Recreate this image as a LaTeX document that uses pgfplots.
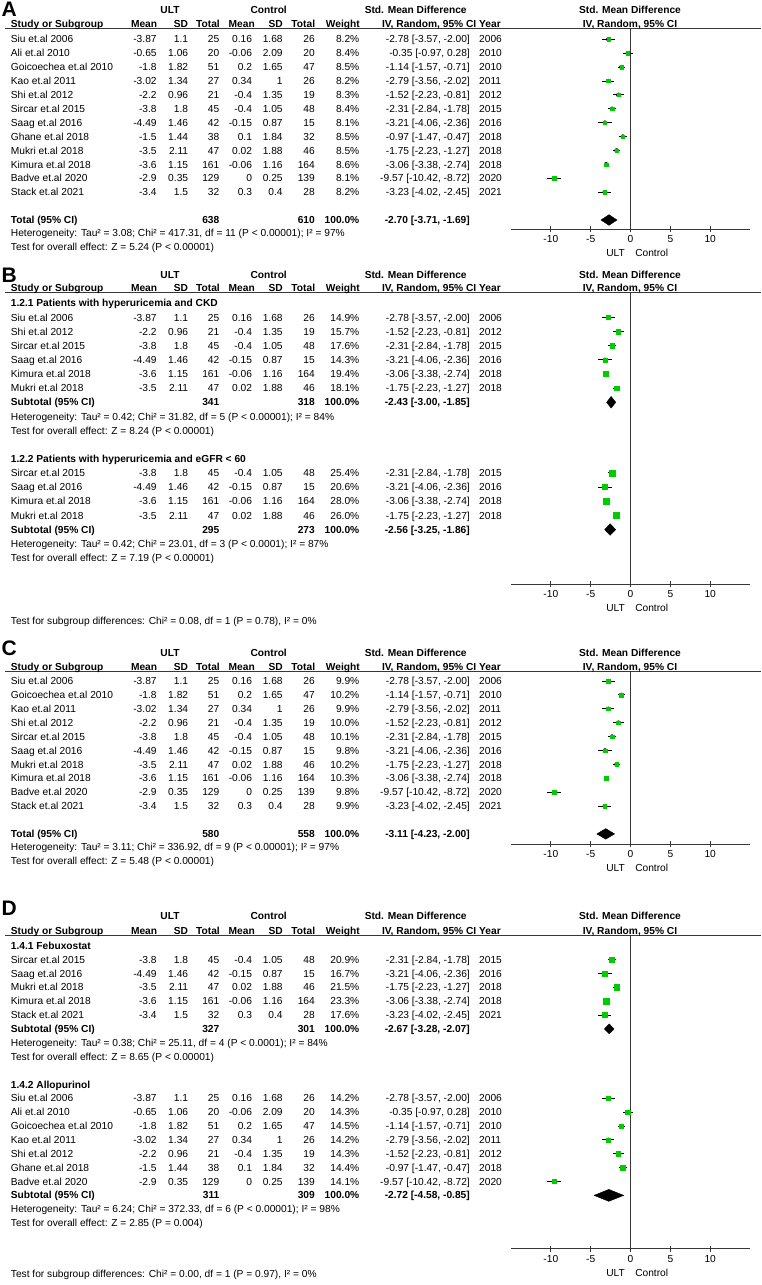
\documentclass[border=0pt]{standalone}
\usepackage{pgfplots}
\pgfplotsset{compat=1.18}
\usepackage{pgfplotstable}
\usepackage{fontspec}
\setmainfont{Liberation Sans}
\definecolor{sqgreen}{RGB}{0,204,0}
\definecolor{ln}{RGB}{55,55,55}
\newcommand\fs{\fontsize{10.2}{12}\selectfont}

% ---------- study data: key, year, ULT mean, SD, n, control mean, SD, n, SMD [CI]
\newcommand\defstudy[9]{\expandafter\def\csname S#1\endcsname{\studyb{#1}{#2}{#3}{#4}{#5}{#6}{#7}{#8}{#9}}}
\newcommand\studyb[9]{%
 \node[anchor=base west] at (10.7,\rowY) {#1 et.al #2};
 \node[anchor=base east] at (156.8,\rowY) {#3};
 \node[anchor=base east] at (188.3,\rowY) {#4};
 \node[anchor=base east] at (219.5,\rowY) {#5};
 \node[anchor=base east] at (252.2,\rowY) {#6};
 \node[anchor=base east] at (282.8,\rowY) {#7};
 \node[anchor=base east] at (315,\rowY) {#8};
 \node[anchor=base east] at (359.5,\rowY) {\rowW\%};
 \node[anchor=base east] at (470,\rowY) {#9};
 \node[anchor=base west] at (479,\rowY) {#2};
}
\newcommand\study[3]{\def\rowY{#1}\def\rowW{#3}\csname S#2\endcsname}
\defstudy{Siu}{2006}{-3.87}{1.1}{25}{0.16}{1.68}{26}{-2.78 [-3.57, -2.00]}
\defstudy{Ali}{2010}{-0.65}{1.06}{20}{-0.06}{2.09}{20}{-0.35 [-0.97, 0.28]}
\defstudy{Goicoechea}{2010}{-1.8}{1.82}{51}{0.2}{1.65}{47}{-1.14 [-1.57, -0.71]}
\defstudy{Kao}{2011}{-3.02}{1.34}{27}{0.34}{1}{26}{-2.79 [-3.56, -2.02]}
\defstudy{Shi}{2012}{-2.2}{0.96}{21}{-0.4}{1.35}{19}{-1.52 [-2.23, -0.81]}
\defstudy{Sircar}{2015}{-3.8}{1.8}{45}{-0.4}{1.05}{48}{-2.31 [-2.84, -1.78]}
\defstudy{Saag}{2016}{-4.49}{1.46}{42}{-0.15}{0.87}{15}{-3.21 [-4.06, -2.36]}
\defstudy{Ghane}{2018}{-1.5}{1.44}{38}{0.1}{1.84}{32}{-0.97 [-1.47, -0.47]}
\defstudy{Mukri}{2018}{-3.5}{2.11}{47}{0.02}{1.88}{46}{-1.75 [-2.23, -1.27]}
\defstudy{Kimura}{2018}{-3.6}{1.15}{161}{-0.06}{1.16}{164}{-3.06 [-3.38, -2.74]}
\defstudy{Badve}{2020}{-2.9}{0.35}{129}{0}{0.25}{139}{-9.57 [-10.42, -8.72]}
\defstudy{Stack}{2021}{-3.4}{1.5}{32}{0.3}{0.4}{28}{-3.23 [-4.02, -2.45]}

\newcommand\headers[2]{%
 \node[anchor=base] at (170,#1) {\bfseries ULT};
 \node[anchor=base] at (268.7,#1) {\bfseries Control};
 \node[anchor=base] at (415.7,#1) {\bfseries Std. Mean Difference};
 \node[anchor=base] at (630,#1) {\bfseries Std. Mean Difference};
 \node[anchor=base west] at (10.7,#2) {\bfseries Study or Subgroup};
 \node[anchor=base east] at (157.3,#2) {\bfseries Mean};
 \node[anchor=base east] at (188.3,#2) {\bfseries SD};
 \node[anchor=base east] at (220,#2) {\bfseries Total};
 \node[anchor=base east] at (255,#2) {\bfseries Mean};
 \node[anchor=base east] at (283,#2) {\bfseries SD};
 \node[anchor=base east] at (315.3,#2) {\bfseries Total};
 \node[anchor=base east] at (360,#2) {\bfseries Weight};
 \node[anchor=base east] at (476.5,#2) {\bfseries IV, Random, 95\% CI};
 \node[anchor=base west] at (479,#2) {\bfseries Year};
 \node[anchor=base] at (630,#2) {\bfseries IV, Random, 95\% CI};
}
\newcommand\totrow[5]{%
 \node[anchor=base west] at (10.7,#1) {\bfseries #2};
 \node[anchor=base east] at (219.5,#1) {\bfseries #3};
 \node[anchor=base east] at (315,#1) {\bfseries #4};
 \node[anchor=base east] at (359.5,#1) {\bfseries 100.0\%};
 \node[anchor=base east] at (470,#1) {\bfseries #5};
}
\newcommand\txt[2]{\node[anchor=base west] at (10.7,#1) {#2};}
\newcommand\ulc[1]{\node[anchor=base] at (615.6,#1) {ULT};\node[anchor=base] at (651.7,#1) {Control};}

% ---------- forest data: row, estimate, lower, upper, weight (%)
\pgfplotstableread{
row est lo hi w
1 -2.78 -3.57 -2.00 8.2
2 -0.35 -0.97 0.28 8.4
3 -1.14 -1.57 -0.71 8.5
4 -2.79 -3.56 -2.02 8.2
5 -1.52 -2.23 -0.81 8.3
6 -2.31 -2.84 -1.78 8.4
7 -3.21 -4.06 -2.36 8.1
8 -0.97 -1.47 -0.47 8.5
9 -1.75 -2.23 -1.27 8.5
10 -3.06 -3.38 -2.74 8.6
11 -9.57 -10.42 -8.72 8.1
12 -3.23 -4.02 -2.45 8.2
}\tabA
\pgfplotstableread{
row est lo hi w
1 -2.78 -3.57 -2.00 14.9
2 -1.52 -2.23 -0.81 15.7
3 -2.31 -2.84 -1.78 17.6
4 -3.21 -4.06 -2.36 14.3
5 -3.06 -3.38 -2.74 19.4
6 -1.75 -2.23 -1.27 18.1
12 -2.31 -2.84 -1.78 25.4
13 -3.21 -4.06 -2.36 20.6
14 -3.06 -3.38 -2.74 28.0
15 -1.75 -2.23 -1.27 26.0
}\tabB
\pgfplotstableread{
row est lo hi w
1 -2.78 -3.57 -2.00 9.9
2 -1.14 -1.57 -0.71 10.2
3 -2.79 -3.56 -2.02 9.9
4 -1.52 -2.23 -0.81 10.0
5 -2.31 -2.84 -1.78 10.1
6 -3.21 -4.06 -2.36 9.8
7 -1.75 -2.23 -1.27 10.2
8 -3.06 -3.38 -2.74 10.3
9 -9.57 -10.42 -8.72 9.8
10 -3.23 -4.02 -2.45 9.9
}\tabC
\pgfplotstableread{
row est lo hi w
1 -2.31 -2.84 -1.78 20.9
2 -3.21 -4.06 -2.36 16.7
3 -1.75 -2.23 -1.27 21.5
4 -3.06 -3.38 -2.74 23.3
5 -3.23 -4.02 -2.45 17.6
11 -2.78 -3.57 -2.00 14.2
12 -0.35 -0.97 0.28 14.3
13 -1.14 -1.57 -0.71 14.5
14 -2.79 -3.56 -2.02 14.2
15 -1.52 -2.23 -0.81 14.3
16 -0.97 -1.47 -0.47 14.4
17 -9.57 -10.42 -8.72 14.1
}\tabD

\pgfplotsset{forest/.style={
  scale only axis, width=239pt, xmin=-15, xmax=15, y dir=reverse, clip=false,
  axis x line=bottom, axis y line=none, ytick=\empty,
  x axis line style={-, draw=ln, line width=0.9pt},
  xtick={-10,-5,0,5,10}, tick align=center, major tick length=6pt,
  every tick/.style={draw=ln, line width=0.9pt},
  xticklabel style={font=\fs},
  /pgf/number format/assume math mode=true,
  anchor=south west},
 ci/.style={only marks, mark=none, error bars/.cd, x dir=both, x explicit, error mark=none,
  error bar style={black, line width=1pt}},
 sq/.style={scatter, only marks, mark=square*, point meta=\thisrow{w},
  scatter/use mapped color={draw=sqgreen, fill=sqgreen},
  visualization depends on={0.567*sqrt(\thisrow{w}) \as \ms},
  scatter/@pre marker code/.append style={/tikz/mark size=\ms}},
 zl/.style={draw=ln, line width=0.9pt, mark=none}
}
\newcommand\forest[1]{%
 \addplot[ci] table[x=est, y=row, x error plus expr=\thisrow{hi}-\thisrow{est}, x error minus expr=\thisrow{est}-\thisrow{lo}] {#1};
 \addplot[sq] table[x=est, y=row] {#1};
}

\begin{document}
\begin{tikzpicture}
\path[use as bounding box] (0,0) rectangle (761pt,-1285pt);
% panel letters and header rules
\begin{scope}[y=-1pt, x=1pt, every node/.style={inner sep=0pt}]
 \node[anchor=west, font=\fontsize{21}{22}\selectfont\bfseries] at (1.5,9.2) {A};
 \node[anchor=west, font=\fontsize{21}{22}\selectfont\bfseries] at (1.5,275.3) {B};
 \node[anchor=west, font=\fontsize{21}{22}\selectfont\bfseries] at (1.5,648) {C};
 \node[anchor=west, font=\fontsize{21}{22}\selectfont\bfseries] at (1.5,908) {D};
 \draw[ln, line width=1pt] (5,28.5) -- (761,28.5);
 \draw[ln, line width=1pt] (5,292.7) -- (761,292.7);
 \draw[ln, line width=1pt] (5,671) -- (761,671);
 \draw[ln, line width=1pt] (5,935) -- (761,935);
\end{scope}
% table text
\begin{scope}[y=-1pt, x=1pt, yshift=-3.6pt, every node/.style={inner sep=0pt}, font=\fs]
 % ---- A
 \headers{10}{24}
 \study{39.3}{Siu}{8.2}
 \study{53.2}{Ali}{8.4}
 \study{67.1}{Goicoechea}{8.5}
 \study{81.0}{Kao}{8.2}
 \study{94.9}{Shi}{8.3}
 \study{108.8}{Sircar}{8.4}
 \study{122.7}{Saag}{8.1}
 \study{136.6}{Ghane}{8.5}
 \study{150.5}{Mukri}{8.5}
 \study{164.4}{Kimura}{8.6}
 \study{178.3}{Badve}{8.1}
 \study{192.2}{Stack}{8.2}
 \totrow{220}{Total (95\% CI)}{638}{610}{-2.70 [-3.71, -1.69]}
 \txt{233}{Heterogeneity: Tau² = 3.08; Chi² = 417.31, df = 11 (P < 0.00001); I² = 97\%}
 \txt{247}{Test for overall effect: Z = 5.24 (P < 0.00001)}
 \ulc{253.3}
 % ---- B
 \headers{275}{288.3}
 \txt{303.3}{\bfseries 1.2.1 Patients with hyperuricemia and CKD}
 \study{317.44}{Siu}{14.9}
 \study{331.58}{Shi}{15.7}
 \study{345.72}{Sircar}{17.6}
 \study{359.86}{Saag}{14.3}
 \study{374.0}{Kimura}{19.4}
 \study{388.14}{Mukri}{18.1}
 \totrow{402.28}{Subtotal (95\% CI)}{341}{318}{-2.43 [-3.00, -1.85]}
 \txt{416.42}{Heterogeneity: Tau² = 0.42; Chi² = 31.82, df = 5 (P < 0.00001); I² = 84\%}
 \txt{430.56}{Test for overall effect: Z = 8.24 (P < 0.00001)}
 \txt{458.84}{\bfseries 1.2.2 Patients with hyperuricemia and eGFR < 60}
 \study{472.98}{Sircar}{25.4}
 \study{487.12}{Saag}{20.6}
 \study{501.26}{Kimura}{28.0}
 \study{515.4}{Mukri}{26.0}
 \totrow{529.54}{Subtotal (95\% CI)}{295}{273}{-2.56 [-3.25, -1.86]}
 \txt{543.68}{Heterogeneity: Tau² = 0.42; Chi² = 23.01, df = 3 (P < 0.0001); I² = 87\%}
 \txt{557.82}{Test for overall effect: Z = 7.19 (P < 0.00001)}
 \txt{621}{Test for subgroup differences: Chi² = 0.08, df = 1 (P = 0.78), I² = 0\%}
 \ulc{607.7}
 % ---- C
 \headers{653.3}{667.3}
 \study{681}{Siu}{9.9}
 \study{694.9}{Goicoechea}{10.2}
 \study{708.8}{Kao}{9.9}
 \study{722.7}{Shi}{10.0}
 \study{736.6}{Sircar}{10.1}
 \study{750.5}{Saag}{9.8}
 \study{764.4}{Mukri}{10.2}
 \study{778.3}{Kimura}{10.3}
 \study{792.2}{Badve}{9.8}
 \study{806.1}{Stack}{9.9}
 \totrow{833.9}{Total (95\% CI)}{580}{558}{-3.11 [-4.23, -2.00]}
 \txt{847}{Heterogeneity: Tau² = 3.11; Chi² = 336.92, df = 9 (P < 0.00001); I² = 97\%}
 \txt{861}{Test for overall effect: Z = 5.48 (P < 0.00001)}
 \ulc{868}
 % ---- D
 \headers{915.7}{931}
 \txt{945.7}{\bfseries 1.4.1 Febuxostat}
 \study{959.57}{Sircar}{20.9}
 \study{973.44}{Saag}{16.7}
 \study{987.31}{Mukri}{21.5}
 \study{1001.18}{Kimura}{23.3}
 \study{1015.05}{Stack}{17.6}
 \totrow{1028.92}{Subtotal (95\% CI)}{327}{301}{-2.67 [-3.28, -2.07]}
 \txt{1042.79}{Heterogeneity: Tau² = 0.38; Chi² = 25.11, df = 4 (P < 0.0001); I² = 84\%}
 \txt{1056.66}{Test for overall effect: Z = 8.65 (P < 0.00001)}
 \txt{1084.4}{\bfseries 1.4.2 Allopurinol}
 \study{1098.27}{Siu}{14.2}
 \study{1112.14}{Ali}{14.3}
 \study{1126.01}{Goicoechea}{14.5}
 \study{1139.88}{Kao}{14.2}
 \study{1153.75}{Shi}{14.3}
 \study{1167.62}{Ghane}{14.4}
 \study{1181.49}{Badve}{14.1}
 \totrow{1195.36}{Subtotal (95\% CI)}{311}{309}{-2.72 [-4.58, -0.85]}
 \txt{1209.23}{Heterogeneity: Tau² = 6.24; Chi² = 372.33, df = 6 (P < 0.00001); I² = 98\%}
 \txt{1223.1}{Test for overall effect: Z = 2.85 (P = 0.004)}
 \txt{1274}{Test for subgroup differences: Chi² = 0.00, df = 1 (P = 0.97), I² = 0\%}
 \ulc{1272.7}
\end{scope}

% ---------- forest plots
\begin{axis}[forest, at={(511pt,-229.3pt)}, height=200.8pt, ymin=0.223, ymax=14.669]
 \addplot[zl] coordinates {(0,0.223) (0,14.669)};
 \forest{\tabA}
 \addplot[fill=black, draw=black] coordinates {(-3.71,14) (-2.70,13.62) (-1.69,14) (-2.70,14.38) (-3.71,14)};
\end{axis}
\begin{axis}[forest, at={(511pt,-584.3pt)}, height=291.3pt, ymin=-0.728, ymax=19.873]
 \addplot[zl] coordinates {(0,-0.728) (0,19.873)};
 \forest{\tabB}
 \addplot[fill=black, draw=black] coordinates {(-3.00,7) (-2.43,6.59) (-1.85,7) (-2.43,7.41) (-3.00,7)};
 \addplot[fill=black, draw=black] coordinates {(-3.25,16) (-2.56,15.59) (-1.86,16) (-2.56,16.41) (-3.25,16)};
\end{axis}
\begin{axis}[forest, at={(511pt,-844pt)}, height=173pt, ymin=0.2806, ymax=12.727]
 \addplot[zl] coordinates {(0,0.2806) (0,12.727)};
 \forest{\tabC}
 \addplot[fill=black, draw=black] coordinates {(-4.23,12) (-3.11,11.62) (-2.00,12) (-3.11,12.38) (-4.23,12)};
\end{axis}
\begin{axis}[forest, at={(511pt,-1248.7pt)}, height=313.7pt, ymin=-0.771, ymax=21.846]
 \addplot[zl] coordinates {(0,-0.771) (0,21.846)};
 \forest{\tabD}
 \addplot[fill=black, draw=black] coordinates {(-3.28,6) (-2.67,5.64) (-2.07,6) (-2.67,6.36) (-3.28,6)};
 \addplot[fill=black, draw=black] coordinates {(-4.58,18) (-2.72,17.57) (-0.85,18) (-2.72,18.43) (-4.58,18)};
\end{axis}
\end{tikzpicture}
\end{document}
